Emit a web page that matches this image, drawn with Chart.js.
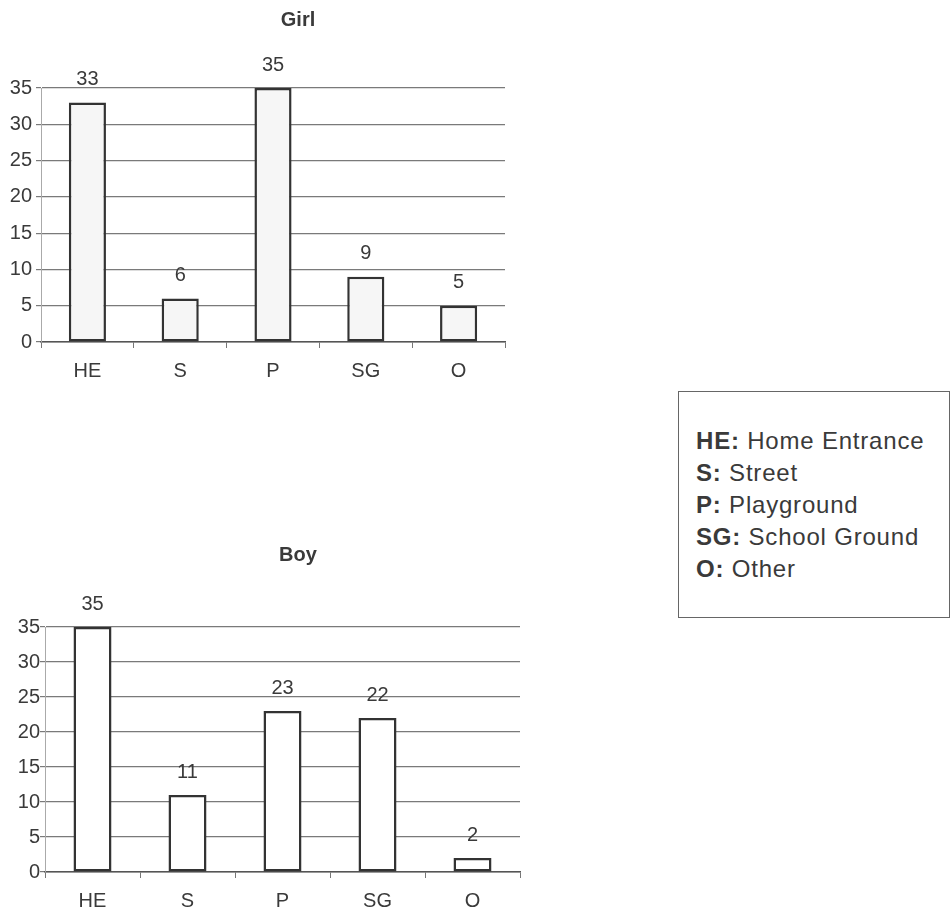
<!DOCTYPE html>
<html><head><meta charset="utf-8">
<script src="https://cdn.jsdelivr.net/npm/chart.js@4"></script>
<style>
html,body{margin:0;padding:0;background:#fff;}
body{width:951px;height:915px;overflow:hidden;position:relative;font-family:"Liberation Sans",Arial,sans-serif;}
#girl{position:absolute;left:0;top:0;}
#boy{position:absolute;left:0;top:520px;}
#legend{position:absolute;left:678px;top:391px;width:272px;height:227px;border:1px solid #666;box-sizing:border-box;padding:33px 0 0 17px;color:#3a3a3a;font-size:24px;letter-spacing:0.8px;line-height:32px;white-space:nowrap;}
#legend b{font-weight:bold;}
</style>
</head><body>
<canvas id="girl" width="596" height="390"></canvas>
<canvas id="boy" width="596" height="395"></canvas>
<div id="legend">
<div><b>HE:</b> Home Entrance</div>
<div><b>S:</b> Street</div>
<div><b>P:</b> Playground</div>
<div><b>SG:</b> School Ground</div>
<div><b>O:</b> Other</div>
</div>
<script>
const categories = ["HE", "S", "P", "SG", "O"];
const girlValues = [33, 6, 35, 9, 5];
const boyValues = [35, 11, 23, 22, 2];
const yTicks = [0, 5, 10, 15, 20, 25, 30, 35];

const TXT = '#3a3a3a';
const FONT = '"Liberation Sans", Arial, sans-serif';

const valueLabels = {
  id: 'valueLabels',
  afterDatasetsDraw(chart) {
    const ctx = chart.ctx;
    const meta = chart.getDatasetMeta(0);
    const data = chart.data.datasets[0].data;
    ctx.save();
    ctx.font = '20px ' + FONT;
    ctx.fillStyle = TXT;
    ctx.textAlign = 'center';
    ctx.textBaseline = 'middle';
    meta.data.forEach((el, i) => {
      ctx.fillText(String(data[i]), el.x, el.y - 23);
    });
    ctx.restore();
  }
};

function makeChart(id, title, values, L) {
  return new Chart(document.getElementById(id), {
    type: 'bar',
    data: {
      labels: categories,
      datasets: [{
        data: values,
        backgroundColor: L.fill,
        borderColor: '#333333',
        borderWidth: 2.5,
        borderSkipped: false,
        categoryPercentage: 1,
        barPercentage: 0.4
      }]
    },
    options: {
      responsive: false,
      animation: false,
      devicePixelRatio: 1,
      layout: { padding: 0 },
      plugins: {
        legend: { display: false },
        tooltip: { enabled: false },
        title: {
          display: true,
          text: title,
          color: TXT,
          font: { family: FONT, size: 20, weight: 'bold', lineHeight: 1.2 },
          padding: { top: L.titleTop, bottom: L.titleBottom }
        }
      },
      scales: {
        x: {
          grid: { offset: true, drawOnChartArea: false, drawTicks: true, tickLength: 6, color: '#777' },
          border: { color: '#555', width: 1.5 },
          ticks: { color: TXT, font: { family: FONT, size: 20 }, padding: 11, maxRotation: 0 },
          afterFit: s => { s.height = L.xHeight; }
        },
        y: {
          min: 0, max: 35,
          afterBuildTicks: s => { s.ticks = yTicks.map(v => ({ value: v })); },
          grid: { color: '#7a7a7a', tickLength: 5, lineWidth: 1.2 },
          border: { color: '#aaa', width: 1 },
          ticks: { color: TXT, font: { family: FONT, size: 20 }, padding: L.yPad },
          afterFit: s => { s.width = L.yWidth; }
        },
        pad: {
          type: 'linear', position: 'right', display: true,
          grid: { display: false }, border: { display: false },
          ticks: { display: false },
          afterFit: s => { s.width = L.rightPad; }
        }
      }
    },
    plugins: [valueLabels]
  });
}

makeChart('girl', 'Girl', girlValues, {
  fill: '#f6f6f6', titleTop: 8, titleBottom: 56, xHeight: 48, yWidth: 41, rightPad: 91, yPad: 4
});
makeChart('boy', 'Boy', boyValues, {
  fill: '#ffffff', titleTop: 23, titleBottom: 60, xHeight: 43, yWidth: 45, rightPad: 76, yPad: 0
});
</script>
</body></html>
